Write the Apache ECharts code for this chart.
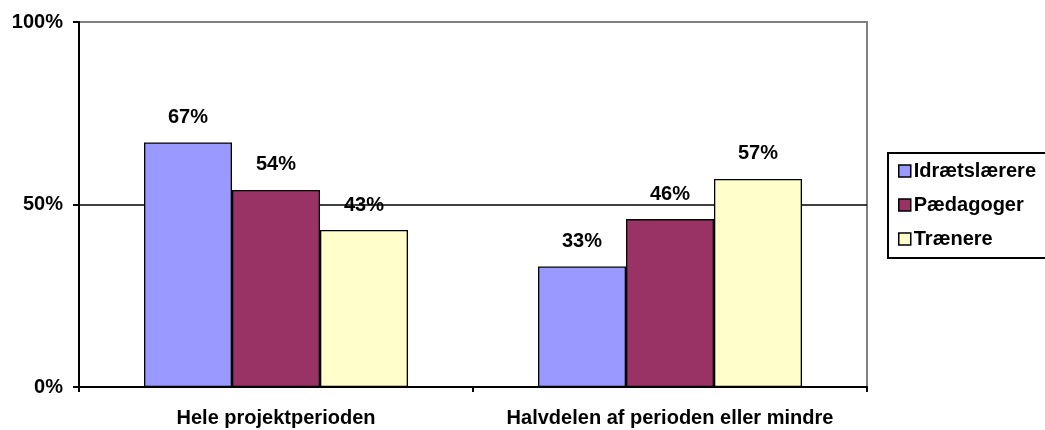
<!DOCTYPE html>
<html>
<head>
<meta charset="utf-8">
<script src="https://cdn.jsdelivr.net/npm/echarts@6/dist/echarts.min.js"></script>
<style>
  html, body { margin: 0; padding: 0; background: #fff; }
  #chart { width: 1045px; height: 430px; }
</style>
</head>
<body>
<div id="chart"></div>
<script>
// data
const categories = ["Hele projektperioden", "Halvdelen af perioden eller mindre"];
const idraetslaerere = [67, 33];
const paedagoger = [54, 46];
const traenere = [43, 57];
const seriesNames = ["Idrætslærere", "Pædagoger", "Trænere"];
const colors = ["#9999FF", "#993366", "#FFFFCC"];

const FONT = "'Liberation Sans', Arial, sans-serif";
const FS = 20;

function makeSeries(name, data, color) {
  return {
    name: name,
    type: "bar",
    data: data,
    barGap: 0,
    barCategoryGap: "33%",
    itemStyle: {
      color: color,
      borderColor: "#000",
      borderWidth: 1.3,
    },
    label: {
      show: true,
      position: "top",
      distance: 15,
      formatter: "{c}%",
      color: "#000",
      fontFamily: FONT,
      fontWeight: "bold",
      fontSize: FS,
    },
    animation: false,
  };
}

const chart = echarts.init(document.getElementById("chart"));
chart.setOption({
  color: colors,
  grid: {
    left: 79,
    top: 22,
    right: 178,
    bottom: 43,
    show: true,
    borderColor: "#808080",
    borderWidth: 2,
  },
  legend: {
    orient: "vertical",
    left: 888,
    top: 153,
    padding: [8, 60, 9, 10],
    itemGap: 14,
    itemWidth: 12,
    itemHeight: 12,
    icon: "rect",
    borderColor: "#000",
    borderWidth: 2,
    data: seriesNames,
    itemStyle: { borderColor: "#000", borderWidth: 1.5 },
    textStyle: {
      color: "#000",
      fontFamily: FONT,
      fontWeight: "bold",
      fontSize: FS,
      padding: [0, 0, 0, -2],
    },
  },
  xAxis: {
    type: "category",
    data: categories,
    axisLine: { lineStyle: { color: "#000", width: 2 } },
    axisTick: { show: true, interval: 0, length: 5, lineStyle: { color: "#000", width: 2 } },
    axisLabel: {
      interval: 0,
      hideOverlap: false,
      margin: 21,
      color: "#000",
      fontFamily: FONT,
      fontWeight: "bold",
      fontSize: FS,
    },
  },
  yAxis: {
    type: "value",
    min: 0,
    max: 100,
    interval: 50,
    axisLine: { show: true, lineStyle: { color: "#000", width: 2 } },
    axisTick: { show: true, length: 6, lineStyle: { color: "#000", width: 2 } },
    axisLabel: {
      formatter: "{value}%",
      margin: 16,
      color: "#000",
      fontFamily: FONT,
      fontWeight: "bold",
      fontSize: FS,
    },
    splitLine: {
      show: true,
      lineStyle: { color: ["#000", "#000", "#808080"], width: 1.5 },
    },
  },
  series: [
    makeSeries(seriesNames[0], idraetslaerere, colors[0]),
    makeSeries(seriesNames[1], paedagoger, colors[1]),
    makeSeries(seriesNames[2], traenere, colors[2]),
  ],
});
</script>
</body>
</html>
